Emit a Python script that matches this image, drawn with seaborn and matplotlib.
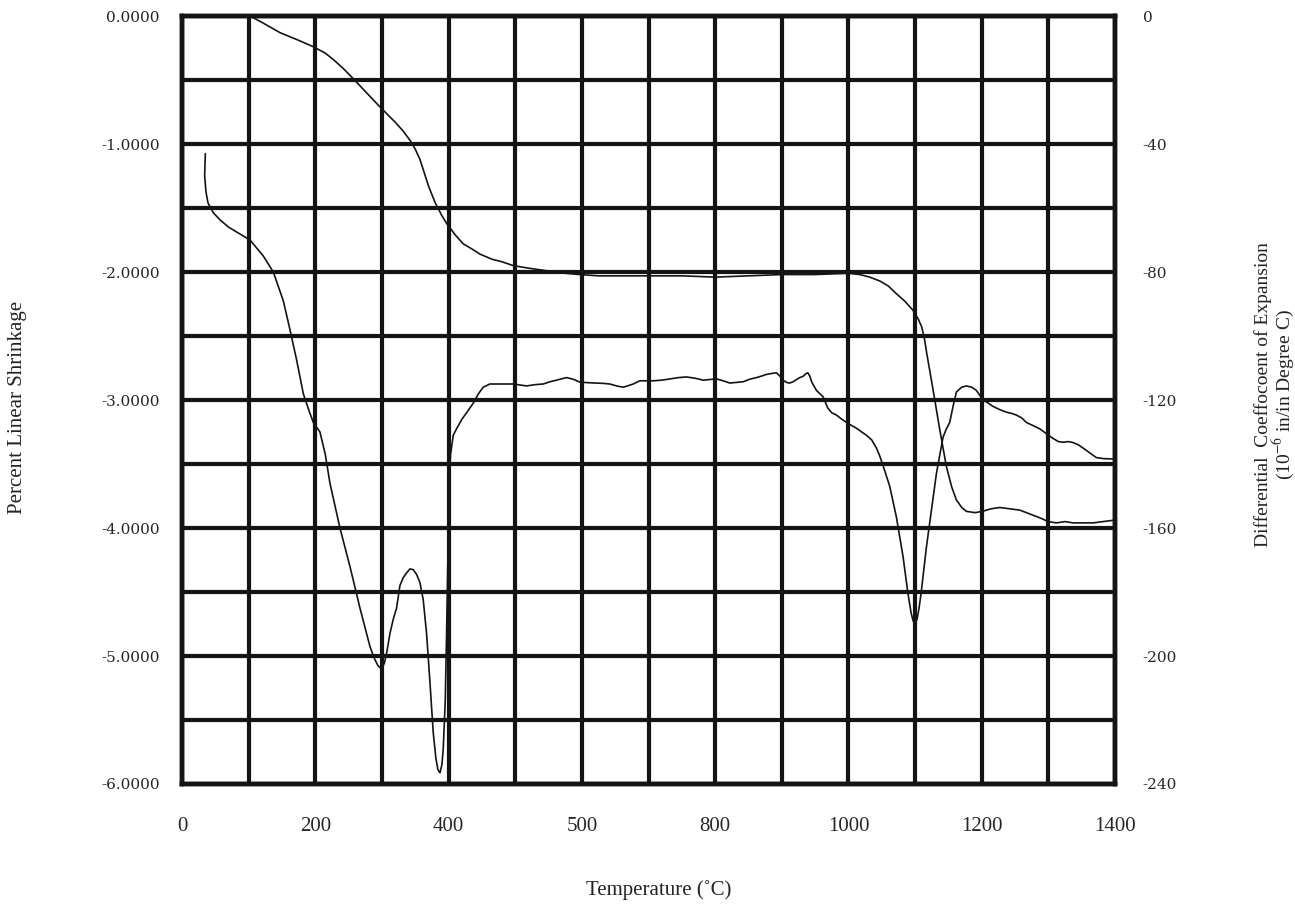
import numpy as np
import pandas as pd
import matplotlib
matplotlib.use("Agg")
import matplotlib.pyplot as plt
import seaborn as sns

# Percent linear shrinkage vs temperature (left axis)
shrink_temp = [102, 120, 147, 175, 197, 215, 227, 242, 257, 277, 297, 320, 332, 342,
               350, 357, 362, 370, 380, 390, 397, 410, 422, 435, 447, 465, 480, 497,
               520, 547, 575, 597, 625, 647, 700, 750, 800, 850, 900, 950, 1000, 1017,
               1032, 1047, 1060, 1072, 1085, 1097, 1105, 1110, 1114, 1118, 1127, 1137,
               1147, 1155, 1162, 1170, 1177, 1190, 1201, 1214, 1227, 1242, 1257, 1272,
               1287, 1300, 1312, 1325, 1337, 1352, 1367, 1382, 1397]
shrink_pct = [0.00, -0.05, -0.13, -0.19, -0.24, -0.29, -0.34, -0.41, -0.49, -0.60,
              -0.71, -0.83, -0.90, -0.97, -1.04, -1.12, -1.20, -1.33, -1.46, -1.56,
              -1.62, -1.71, -1.78, -1.82, -1.86, -1.90, -1.92, -1.95, -1.97, -1.99,
              -2.01, -2.02, -2.03, -2.03, -2.03, -2.03, -2.04, -2.03, -2.02, -2.02,
              -2.01, -2.02, -2.04, -2.07, -2.11, -2.17, -2.23, -2.30, -2.37, -2.43,
              -2.52, -2.65, -2.92, -3.23, -3.52, -3.68, -3.78, -3.84, -3.87, -3.88,
              -3.87, -3.85, -3.84, -3.85, -3.86, -3.89, -3.92, -3.95, -3.96, -3.95,
              -3.96, -3.96, -3.96, -3.95, -3.94]

# Differential coefficient of expansion vs temperature (right axis)
dce_temp = [35, 34, 36, 39, 47, 57, 70, 82, 102, 112, 122, 137, 152, 162, 172, 182,
            190, 197, 207, 215, 222, 237, 252, 267, 282, 288, 294, 298, 301, 304, 308,
            312, 317, 322, 327, 332, 337, 342, 347, 352, 357, 362, 367, 372, 377, 381,
            384, 387, 390, 392, 395, 397, 399, 401, 403, 407, 412, 420, 427, 437, 445,
            452, 462, 472, 485, 497, 507, 517, 530, 542, 552, 562, 577, 587, 597, 610,
            622, 632, 642, 652, 662, 670, 677, 687, 697, 707, 720, 732, 745, 757, 770,
            782, 792, 802, 812, 822, 832, 842, 852, 862, 870, 877, 885, 892, 897, 902,
            907, 912, 917, 922, 927, 932, 936, 939, 942, 945, 952, 962, 969, 975, 982,
            990, 997, 1005, 1012, 1020, 1027, 1035, 1042, 1047, 1052, 1062, 1072, 1082,
            1089, 1094, 1097, 1100, 1103, 1106, 1109, 1112, 1117, 1122, 1132, 1142,
            1147, 1152, 1157, 1162, 1170, 1177, 1185, 1192, 1202, 1210, 1217, 1227,
            1237, 1245, 1252, 1260, 1267, 1277, 1287, 1297, 1307, 1315, 1322, 1330,
            1337, 1345, 1352, 1362, 1372, 1382, 1392, 1398]
dce_val = [-43, -50, -55, -58.4, -61.5, -63.7, -66, -67.5, -70, -72.5, -75, -80, -89,
           -98, -107.5, -118, -123, -127, -130, -137, -146, -160, -172, -185, -197,
           -200.5, -203, -203.8, -203.5, -202, -198, -193, -188.5, -185, -178, -175.5,
           -174, -172.8, -173, -174.5, -177, -182.5, -193, -208, -224, -232, -235.5,
           -236.5, -234, -229, -214, -193, -168, -145, -137, -131, -129, -126, -124,
           -121, -118, -116, -115, -115, -115, -115, -115.3, -115.6, -115.2, -115,
           -114.3, -113.8, -113, -113.5, -114.4, -114.6, -114.7, -114.8, -115, -115.6,
           -116, -115.5, -115, -114, -114, -114, -113.8, -113.4, -113, -112.8, -113.2,
           -113.8, -113.6, -113.4, -114, -114.7, -114.5, -114.3, -113.5, -113, -112.5,
           -112, -111.7, -111.5, -112.5, -113.8, -114.5, -114.7, -114.3, -113.6, -113,
           -112.6, -111.8, -111.5, -112.5, -114.4, -117, -119, -122.5, -124, -124.7,
           -126, -127, -128, -128.8, -130, -131, -132.5, -135, -137.5, -140.5, -147,
           -156.6, -169, -180, -186.5, -189, -189.8, -188.5, -185, -180.5, -175, -166,
           -158.4, -143, -131.6, -129, -127, -122, -117.5, -116, -115.6, -116, -117,
           -120, -121, -122, -123, -123.8, -124.2, -124.7, -125.6, -127, -128, -129,
           -130.5, -132, -133, -133.2, -133, -133.3, -134, -135, -136.5, -138, -138.3,
           -138.4, -138.4]

x_ticks = [0, 200, 400, 600, 800, 1000, 1200, 1400]
x_tick_labels = ["0", "200", "400", "500", "800", "1000", "1200", "1400"]
left_ticks = [0, -1, -2, -3, -4, -5, -6]
left_tick_labels = ["0.0000", "-1.0000", "-2.0000", "-3.0000", "-4.0000", "-5.0000", "-6.0000"]
right_ticks = [0, -40, -80, -120, -160, -200, -240]
right_tick_labels = ["0", "-40", "-80", "-120", "-160", "-200", "-240"]

sns.set_style("white")
plt.rcParams["font.family"] = ["Liberation Serif", "DejaVu Serif"]
plt.rcParams["mathtext.fontset"] = "stix"

W, H = 1295, 911
fig = plt.figure(figsize=(W / 100, H / 100), dpi=100)
fig.patch.set_facecolor("white")
ax = fig.add_axes([182 / W, 1 - 784 / H, (1115 - 182) / W, (784 - 16) / H])

ink = "#141414"
shrink_df = pd.DataFrame({"temp": shrink_temp, "pct": shrink_pct})
dce_df = pd.DataFrame({"temp": dce_temp, "dce": dce_val})

sns.lineplot(data=shrink_df, x="temp", y="pct", ax=ax, color=ink, lw=1.2,
             sort=False, estimator=None, solid_joinstyle="round")

ax.set_xlim(0, 1400)
ax.set_ylim(-6, 0)
ax.set_xticks(x_ticks)
ax.set_xticklabels(x_tick_labels, fontsize=15, family="Liberation Serif")
ax.set_xticks(np.arange(0, 1401, 100), minor=True)
ax.set_yticks(left_ticks)
ax.set_yticklabels(left_tick_labels, fontsize=11, family="DejaVu Serif")
ax.set_yticks(np.arange(-6, 0.01, 0.5), minor=True)
ax.grid(which="both", color=ink, lw=3)
ax.set_axisbelow(True)
ax.tick_params(axis="x", which="both", length=0, pad=24)
ax.tick_params(axis="y", which="both", length=0, pad=16)
ax.set_xlabel("")
ax.set_ylabel("")
for s in ax.spines.values():
    s.set_visible(True)
    s.set_color(ink)
    s.set_linewidth(3.2)

ax2 = ax.twinx()
sns.lineplot(data=dce_df, x="temp", y="dce", ax=ax2, color=ink, lw=1.2,
             sort=False, estimator=None, solid_joinstyle="round")
ax2.set_ylim(-240, 0)
ax2.set_yticks(right_ticks)
ax2.set_yticklabels(right_tick_labels, fontsize=11, family="DejaVu Serif")
ax2.tick_params(axis="y", length=0, pad=20)
ax2.grid(False)
ax2.set_ylabel("")
for s in ax2.spines.values():
    s.set_visible(True)
    s.set_color(ink)
    s.set_linewidth(3.2)

fig.text(18 / W, 1 - 407 / H, "Percent Linear Shrinkage", rotation=90,
         ha="center", va="center", fontsize=15, color="#222")
fig.text(659 / W, 1 - 890 / H, "Temperature (\u02daC)",
         ha="center", va="center", fontsize=15, color="#222")
fig.text(1275 / W, 1 - 395 / H,
         "Differential  Coeffocoent of Expansion\n(10$^{-6}$ in/in Degree C)",
         rotation=90, ha="center", va="center", multialignment="center",
         fontsize=14, linespacing=0.95, color="#222")

fig.savefig("out.png", dpi=100, facecolor="white")
